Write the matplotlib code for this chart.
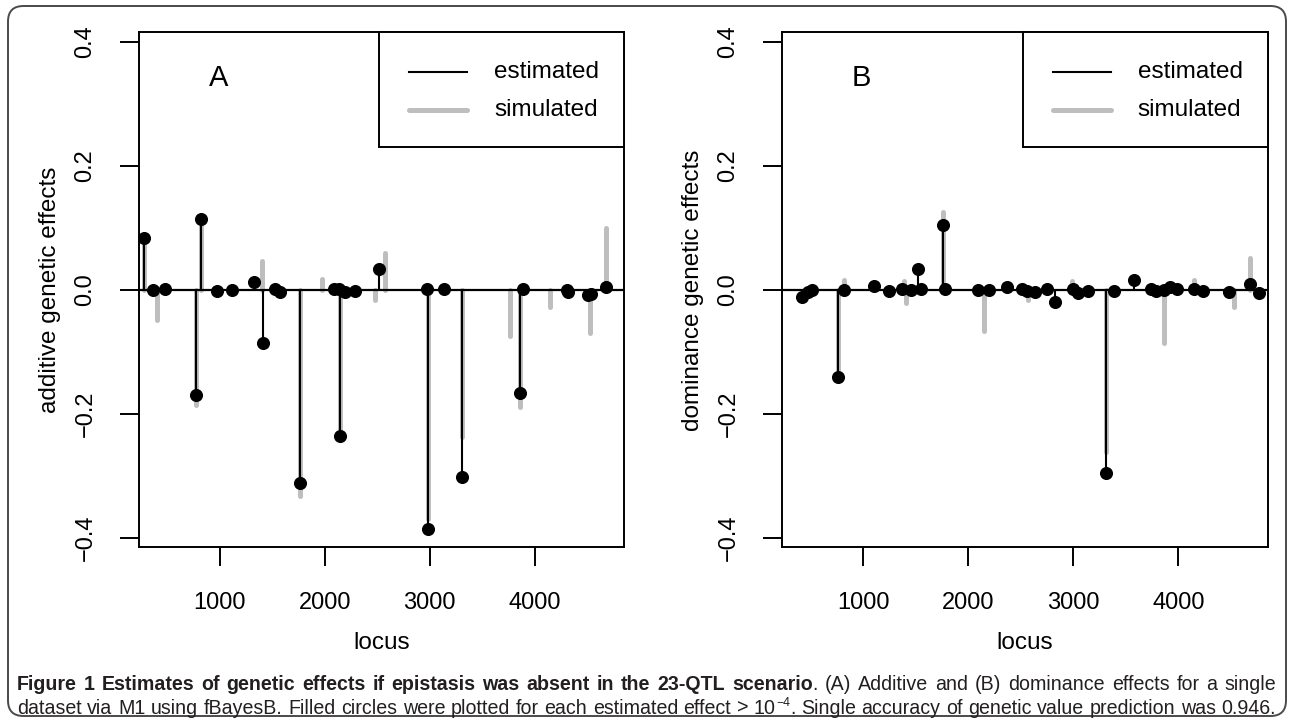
import matplotlib
matplotlib.use("Agg")
import matplotlib.pyplot as plt
from matplotlib.patches import FancyBboxPatch, Rectangle
from matplotlib.lines import Line2D

# ---------------- data ----------------
# Panel A : additive effects
locA_est = [276, 359, 479, 768, 822, 971, 1111, 1321, 1410, 1530, 1571, 1759, 2086, 2133,
            2149, 2190, 2292, 2521, 2978, 2987, 3133, 3308, 3864, 3892, 4311, 4317, 4508,
            4533, 4683]
valA_est = [0.083, -0.001, 0.001, -0.170, 0.114, -0.002, -0.001, 0.013, -0.086, 0.002,
            -0.003, -0.312, 0.002, 0.001, -0.236, -0.003, -0.002, 0.033, 0.002, -0.385,
            0.001, -0.302, -0.166, 0.002, -0.001, -0.004, -0.008, -0.007, 0.004]
locA_sim = [276, 403, 768, 822, 1400, 1759, 1974, 2149, 2483, 2571, 2987, 3308, 3765, 3864,
            4146, 4530, 4683]
valA_sim = [0.080, -0.048, -0.185, 0.110, 0.046, -0.332, 0.017, -0.230, -0.016, 0.060,
            -0.370, -0.237, -0.075, -0.189, -0.028, -0.070, 0.100]

# Panel B : dominance effects
locB_est = [416, 480, 518, 765, 822, 1108, 1245, 1375, 1454, 1524, 1549, 1756, 1781, 2098,
            2200, 2365, 2511, 2559, 2638, 2752, 2825, 2997, 3041, 3140, 3308, 3384, 3574,
            3740, 3790, 3867, 3917, 3987, 4146, 4235, 4479, 4679, 4768]
valB_est = [-0.012, -0.004, 0.000, -0.141, -0.001, 0.006, -0.002, 0.002, -0.001, 0.034,
            0.002, 0.104, 0.001, -0.001, -0.001, 0.004, 0.002, -0.002, -0.003, 0.002,
            -0.020, 0.002, -0.005, -0.002, -0.296, -0.002, 0.016, 0.002, -0.002, -0.001,
            0.005, 0.002, 0.002, -0.002, -0.003, 0.010, -0.005]
locB_sim = [765, 822, 1390, 1407, 1756, 2150, 2569, 2988, 3308, 3867, 4146, 4524, 4679]
valB_sim = [-0.130, 0.016, 0.015, -0.021, 0.125, -0.067, -0.016, 0.015, -0.261, -0.085,
            0.016, -0.028, 0.052]

xticks = [1000, 2000, 3000, 4000]
yticks = [-0.4, -0.2, 0.0, 0.2, 0.4]
ytick_labels = ["\u22120.4", "\u22120.2", "0.0", "0.2", "0.4"]
panel_labels = ["A", "B"]
ylabels = ["additive genetic effects", "dominance genetic effects"]
xlabel = "locus"
legend_labels = ["estimated", "simulated"]

caption_bold = "Figure 1 Estimates of genetic effects if epistasis was absent in the 23-QTL scenario"
caption_l1_rest = ". (A) Additive and (B) dominance effects for a single"
caption_l2 = ("dataset via M1 using fBayesB. Filled circles were plotted for each estimated "
              "effect > 10")
caption_l2_sup = "\u22124"
caption_l2_end = ". Single accuracy of genetic value prediction was 0.946."

# ---------------- figure ----------------
W, H, DPI = 1293, 724, 100
plt.rcParams["font.family"] = ["Liberation Sans", "DejaVu Sans"]
fig = plt.figure(figsize=(W / DPI, H / DPI), dpi=DPI)


def px_rect(l, t, r, b):
    return [l / W, 1 - b / H, (r - l) / W, (b - t) / H]


GRAY = "#bebebe"
axes_px = [(139, 32, 624, 547), (782, 32, 1268, 547)]
datasets = [(locA_est, valA_est, locA_sim, valA_sim), (locB_est, valB_est, locB_sim, valB_sim)]

for i, (box, data) in enumerate(zip(axes_px, datasets)):
    le, ve, ls, vs = data
    ax = fig.add_axes(px_rect(*box))
    sim = ax.vlines(ls, 0, vs, colors=GRAY, lw=3.6, zorder=2)
    sim.set_capstyle("round")
    ax.axhline(0, color="black", lw=1.6, zorder=3)
    ax.vlines(le, 0, ve, colors="black", lw=1.5, zorder=4)
    ax.plot(le, ve, "o", color="black", ms=8.4, zorder=5)
    ax.set_xlim(229, 4852)
    ax.set_ylim(-0.4145, 0.4156)
    ax.set_xticks(xticks)
    ax.set_xticklabels([str(t) for t in xticks])
    ax.set_yticks(yticks)
    ax.set_yticklabels(ytick_labels)
    for lab in ax.get_yticklabels():
        lab.set_rotation(90)
        lab.set_va("center")
    ax.tick_params(axis="both", direction="out", length=13.7, width=1.4, labelsize=17)
    ax.tick_params(axis="x", pad=19)
    ax.tick_params(axis="y", pad=17)
    for sp in ax.spines.values():
        sp.set_linewidth(1.4)

    l, t, r, b = box
    # axis titles
    fig.text((l + r) / 2 / W, 1 - 643 / H, xlabel, ha="center", va="center", fontsize=17.5)
    fig.text((l - 89) / W, 1 - 290 / H, ylabels[i], ha="center", va="center",
             rotation=90, fontsize=17.5)
    # panel label
    ax.text(0.164, 0.911, panel_labels[i], transform=ax.transAxes, ha="center",
            va="center", fontsize=21)
    # legend (manual, R style)
    lx0 = 0.495
    ly0 = (547 - 147) / 515
    ax.add_patch(Rectangle((lx0, ly0), 1 - lx0, 1 - ly0, transform=ax.transAxes,
                           fill=True, facecolor="white", edgecolor="black", lw=1.4,
                           zorder=6, clip_on=False))
    rows = [0.922, 0.8485]
    styles = [dict(color="black", lw=1.5), dict(color=GRAY, lw=3.6, solid_capstyle="round")]
    for yrow, st, lab in zip(rows, styles, legend_labels):
        ax.add_line(Line2D([0.557, 0.676], [yrow, yrow], transform=ax.transAxes,
                           zorder=7, clip_on=False, **st))
        ax.text(0.732, yrow, lab, transform=ax.transAxes, ha="left", va="center",
                fontsize=17.5, zorder=7)

# ---------------- outer frame ----------------
frame = FancyBboxPatch((8 / W, 8 / H), (1286 - 8) / W, (718 - 8) / H,
                       boxstyle="round,pad=0,rounding_size=0.012",
                       transform=fig.transFigure, fill=False, edgecolor="#4a4a4a",
                       lw=1.4, mutation_aspect=W / H)
fig.patches.append(frame)

# ---------------- caption ----------------
cap_family = ["Liberation Sans Narrow", "Liberation Sans", "DejaVu Sans"]
renderer = fig.canvas.get_renderer()
CAP_COLOR = "#231f20"


def measure(txt, fs, bold):
    t = fig.text(0, 0, txt, fontsize=fs, fontweight="bold" if bold else "normal",
                 family=cap_family)
    w = t.get_window_extent(renderer).width
    t.remove()
    return w


def words_of(s, bold):
    return [[(w, bold, 1.0, 0.0)] for w in s.split(" ") if w != ""]


line1 = words_of(caption_bold, True)
rest_words = caption_l1_rest.split(" ")
line1[-1] = line1[-1] + [(rest_words[0], False, 1.0, 0.0)]
line1 += [[(w, False, 1.0, 0.0)] for w in rest_words[1:] if w != ""]

line2 = words_of(caption_l2, False)
end_words = caption_l2_end.split(" ")
line2[-1] = line2[-1] + [(caption_l2_sup, False, 0.62, 0.42), (end_words[0], False, 1.0, 0.0)]
line2 += [[(w, False, 1.0, 0.0)] for w in end_words[1:] if w != ""]

X0, X1 = 17, 1276


def word_width(word, fs):
    return sum(measure(p[0], fs * p[2], p[1]) for p in word)


base = 10.0
sp = measure("a a", base, False) - measure("aa", base, False)
nat = sum(word_width(w, base) for w in line2) + sp * (len(line2) - 1)
FS = base * (X1 - X0) / nat
FS = min(FS, 15.5)


def draw_line(words, y_base, justify=True):
    widths = [word_width(w, FS) for w in words]
    if justify:
        gap = ((X1 - X0) - sum(widths)) / (len(words) - 1)
    else:
        gap = sp * FS / base
    x = X0
    for w, ww in zip(words, widths):
        xx = x
        for txt, bold, sc, rise in w:
            fig.text(xx / W, 1 - (y_base - rise * FS * 1.39) / H, txt, fontsize=FS * sc,
                     fontweight="bold" if bold else "normal", family=cap_family,
                     color=CAP_COLOR, ha="left", va="baseline")
            xx += measure(txt, FS * sc, bold)
        x += ww + gap


draw_line(line1, 690)
draw_line(line2, 714)

fig.savefig("out.png", dpi=DPI)
